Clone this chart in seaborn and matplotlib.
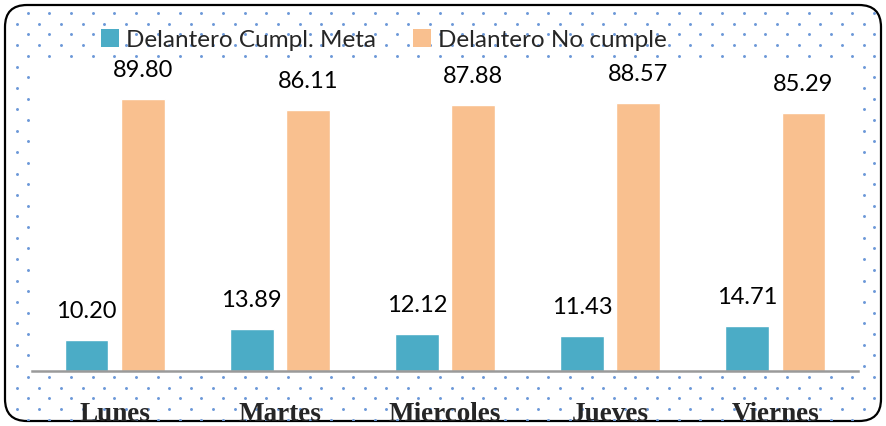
import numpy as np
import pandas as pd
import matplotlib.pyplot as plt
import seaborn as sns
from matplotlib.patches import FancyBboxPatch, Patch

# data
dias = ["Lunes", "Martes", "Miercoles", "Jueves", "Viernes"]
cumple_meta = [10.20, 13.89, 12.12, 11.43, 14.71]
no_cumple = [89.80, 86.11, 87.88, 88.57, 85.29]
series = ["Delantero Cumpl. Meta", "Delantero No cumple"]
colores = ["#4BACC6", "#F9C08F"]

df = pd.DataFrame({
    "dia": dias * 2,
    "serie": [series[0]] * len(dias) + [series[1]] * len(dias),
    "valor": cumple_meta + no_cumple,
})

sns.set_theme(style="white")
plt.rcParams["font.family"] = ["Lato", "DejaVu Sans"]

W, H = 886, 426
fig = plt.figure(figsize=(W / 100, H / 100), dpi=100)

# background: dotted pattern inside a rounded frame
bg = fig.add_axes([0, 0, 1, 1], zorder=0)
bg.set_xlim(0, W)
bg.set_ylim(H, 0)
bg.axis("off")
frame = FancyBboxPatch((5, 5), W - 10, H - 10,
                       boxstyle="round,pad=0,rounding_size=22",
                       facecolor="white", edgecolor="black", linewidth=1.6, zorder=1)
bg.add_patch(frame)
dx, dy = 21.7, 10.7
pts = []
for r, yy in enumerate(np.arange(13, H, dy)):
    x0 = 27.7 if r % 2 == 0 else 17.5
    for xx in np.arange(x0, W, dx):
        pts.append((xx, yy))
pts = np.array(pts)
dots = bg.scatter(pts[:, 0], pts[:, 1], s=4.5, color="#6C98D8", linewidths=0, zorder=2)
dots.set_clip_path(frame)

# main chart
ax = fig.add_axes([32 / W, 1 - 371 / H, (858 - 32) / W, (371 - 66) / H], zorder=1)
ax.set_facecolor("white")
sns.barplot(data=df, x="dia", y="valor", hue="serie", palette=colores,
            width=0.68, gap=0.22, ax=ax, legend=False, saturation=1)
ax.set_xlim(-0.5, len(dias) - 0.5)
ax.set_ylim(0, 100.7)
for cont in ax.containers:
    ax.bar_label(cont, fmt="%.2f", padding=13, fontsize=17, color="black")

for s in ["top", "left", "right"]:
    ax.spines[s].set_visible(False)
ax.spines["bottom"].set_color("#9a9a9a")
ax.spines["bottom"].set_linewidth(1.8)
ax.set_yticks([])
ax.set_xlabel("")
ax.set_ylabel("")
ax.tick_params(axis="x", length=0, pad=22)
for lab in ax.get_xticklabels():
    lab.set_fontfamily("Liberation Serif")
    lab.set_fontweight("bold")
    lab.set_fontsize(19.5)

handles = [Patch(facecolor=c, edgecolor="none") for c in colores]
fig.legend(handles, series, loc="center", bbox_to_anchor=(384 / W, 1 - 40 / H),
           ncol=2, frameon=False, fontsize=17.5, handlelength=0.75, handleheight=0.75,
           handletextpad=0.3, columnspacing=1.5)

fig.savefig("out.png", dpi=100)
